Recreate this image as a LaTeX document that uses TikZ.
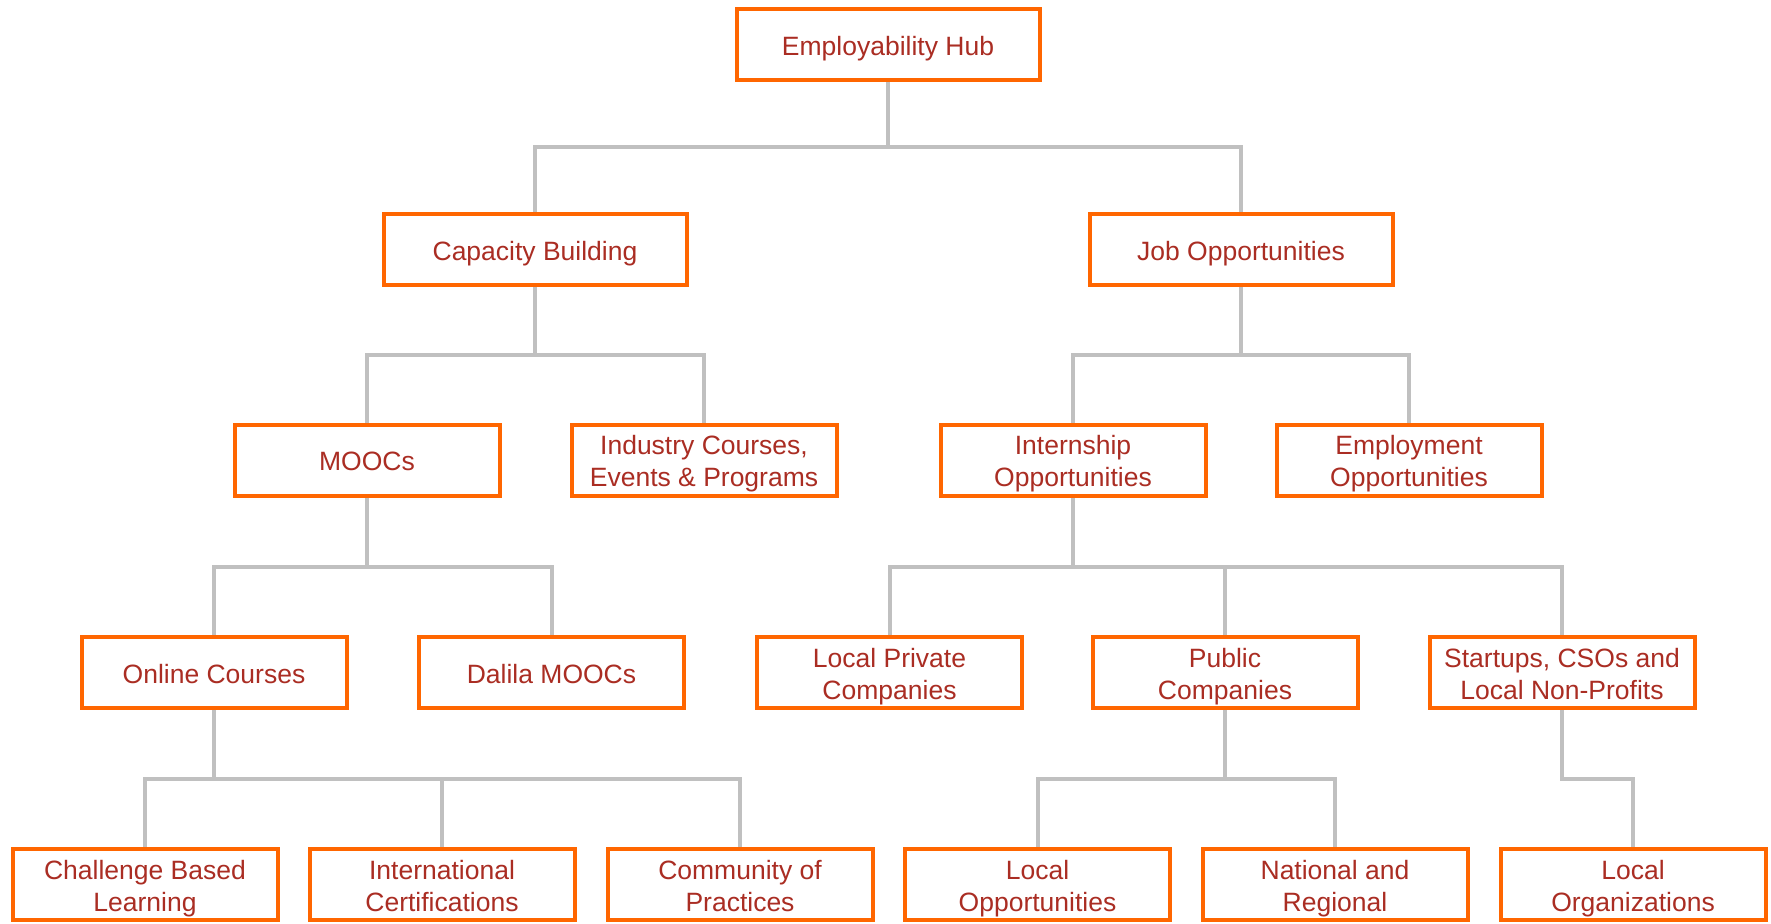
\documentclass[tikz,border=0pt]{standalone}
\usepackage{fontspec}
\setmainfont{Liberation Sans}
\usetikzlibrary{backgrounds}
\definecolor{boxorange}{RGB}{255,102,0}
\definecolor{txtred}{RGB}{170,45,35}
\definecolor{linegray}{RGB}{192,192,192}
\newcommand{\fstrut}{\rule[-6pt]{0pt}{33pt}}
\newcommand{\lstrut}{\rule[-6pt]{0pt}{25pt}}
\tikzset{
  box/.style={draw=boxorange, line width=4pt, fill=white, inner sep=0pt,
    minimum height=71pt, text=txtred, align=center,
    font=\fontsize{26.5}{32}\selectfont},
  widebox/.style={box, minimum width=303pt},
  narrowbox/.style={box, minimum width=265pt},
  conn/.style={draw=linegray, line width=4pt}
}
\begin{document}
\begin{tikzpicture}[x=1pt,y=-1pt]
\useasboundingbox (0,0) rectangle (1771,923);
\node[widebox] (top) at (888,45) {\fstrut Employability Hub};
\node[widebox] (cap) at (535,249.5) {\fstrut Capacity Building};
\node[widebox] (job) at (1241,249.5) {\fstrut Job Opportunities};
\node[narrowbox] (mooc) at (367,460) {\fstrut MOOCs};
\node[narrowbox] (ind) at (704,460) {\fstrut Industry Courses,\\\lstrut Events \& Programs};
\node[narrowbox] (intern) at (1073,460) {\fstrut Internship\\\lstrut Opportunities};
\node[narrowbox] (empl) at (1409,460) {\fstrut Employment\\\lstrut Opportunities};
\node[narrowbox] (online) at (214,672.5) {\fstrut Online Courses};
\node[narrowbox] (dalila) at (551.5,672.5) {\fstrut Dalila MOOCs};
\node[narrowbox] (lpriv) at (889.5,672.5) {\fstrut Local Private\\\lstrut Companies};
\node[narrowbox] (public) at (1225,672.5) {\fstrut Public\\\lstrut Companies};
\node[narrowbox] (startup) at (1562,672.5) {\fstrut Startups, CSOs and\\\lstrut Local Non-Profits};
\node[narrowbox] (cbl) at (145,884.5) {\fstrut Challenge Based\\\lstrut Learning};
\node[narrowbox] (intl) at (442,884.5) {\fstrut International\\\lstrut Certifications};
\node[narrowbox] (cop) at (740,884.5) {\fstrut Community of\\\lstrut Practices};
\node[narrowbox] (lopp) at (1037.5,884.5) {\fstrut Local\\\lstrut Opportunities};
\node[narrowbox] (natl) at (1335,884.5) {\fstrut National and\\\lstrut Regional};
\node[narrowbox] (lorg) at (1633,884.5) {\fstrut Local\\\lstrut Organizations};
\begin{scope}[on background layer]
\foreach \p/\c/\b in {top/cap/147, top/job/147,
  cap/mooc/355, cap/ind/355, job/intern/355, job/empl/355,
  mooc/online/567, mooc/dalila/567,
  intern/lpriv/567, intern/public/567, intern/startup/567,
  online/cbl/779, online/intl/779, online/cop/779,
  public/lopp/779, public/natl/779, startup/lorg/779}
  \draw[conn] (\p.south) -- (\p.south |- 0,\b) -| (\c.north);
\end{scope}
\end{tikzpicture}
\end{document}
